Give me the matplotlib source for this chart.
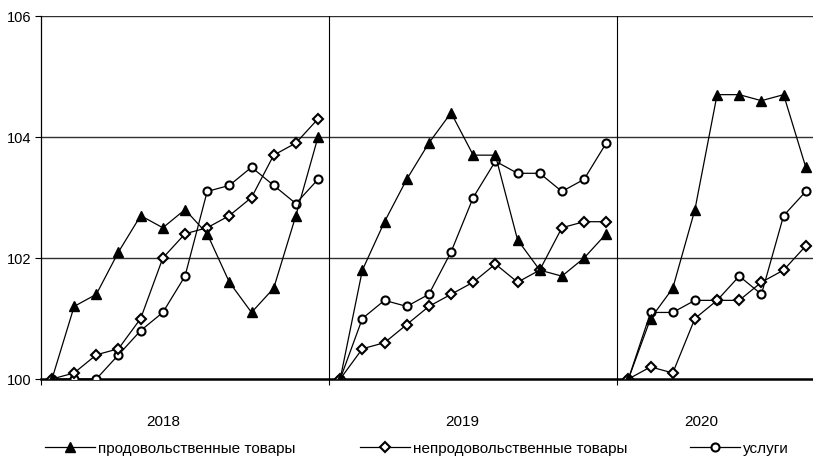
import matplotlib
matplotlib.use("Agg")
import matplotlib.pyplot as plt
from matplotlib.lines import Line2D

plt.rcParams['font.family'] = ['Liberation Sans', 'DejaVu Sans']
plt.rcParams['font.size'] = 11

years = ["2018", "2019", "2020"]
series_names = ["продовольственные товары", "непродовольственные товары", "услуги"]

food_2018 = [100, 101.2, 101.4, 102.1, 102.7, 102.5, 102.8, 102.4, 101.6, 101.1, 101.5, 102.7, 104.0]
food_2019 = [100, 101.8, 102.6, 103.3, 103.9, 104.4, 103.7, 103.7, 102.3, 101.8, 101.7, 102.0, 102.4]
food_2020 = [100, 101.0, 101.5, 102.8, 104.7, 104.7, 104.6, 104.7, 103.5]

nonfood_2018 = [100, 100.1, 100.4, 100.5, 101.0, 102.0, 102.4, 102.5, 102.7, 103.0, 103.7, 103.9, 104.3]
nonfood_2019 = [100, 100.5, 100.6, 100.9, 101.2, 101.4, 101.6, 101.9, 101.6, 101.8, 102.5, 102.6, 102.6]
nonfood_2020 = [100, 100.2, 100.1, 101.0, 101.3, 101.3, 101.6, 101.8, 102.2]

serv_2018 = [100, 100.0, 100.0, 100.4, 100.8, 101.1, 101.7, 103.1, 103.2, 103.5, 103.2, 102.9, 103.3]
serv_2019 = [100, 101.0, 101.3, 101.2, 101.4, 102.1, 103.0, 103.6, 103.4, 103.4, 103.1, 103.3, 103.9]
serv_2020 = [100, 101.1, 101.1, 101.3, 101.3, 101.7, 101.4, 102.7, 103.1]

food = [food_2018, food_2019, food_2020]
nonfood = [nonfood_2018, nonfood_2019, nonfood_2020]
serv = [serv_2018, serv_2019, serv_2020]

fig = plt.figure(figsize=(8.13, 4.6), dpi=100)
W, H = 813, 460
ax = fig.add_axes([40.9 / W, (H - 380) / H, 1 - 40.9 / W, (380 - 17) / H])

styles = [
    dict(marker='^', markersize=7.5, markerfacecolor='black', markeredgecolor='black'),
    dict(marker='D', markersize=5.2, markerfacecolor='white', markeredgecolor='black', markeredgewidth=1.5),
    dict(marker='o', markersize=5.8, markerfacecolor='white', markeredgecolor='black', markeredgewidth=1.5),
]

# horizontal grid
for yv in [102, 104, 106]:
    ax.axhline(yv, color='#303030', lw=1, zorder=1)

start = 0
bounds = []
for i in range(len(years)):
    n = len(food[i])
    xs = list(range(start, start + n))
    ax.plot(xs, serv[i], color='black', lw=0.9, zorder=3, **styles[2])
    ax.plot(xs, nonfood[i], color='black', lw=0.9, zorder=4, **styles[1])
    ax.plot(xs, food[i], color='black', lw=0.9, zorder=5, **styles[0])
    bounds.append(start - 0.5)
    start += n

x_right = (W - 52) / 22.17
ax.set_xlim(-0.5, x_right)
ax.set_ylim(100, 106)

for b in bounds[1:]:
    ax.axvline(b, color='black', lw=0.8, zorder=2)

ax.set_xticks(bounds)
ax.set_xticklabels([])
ax.tick_params(axis='x', direction='out', length=4, width=0.8)
ax.set_yticks([100, 102, 104, 106])
ax.set_yticklabels(['100', '102', '104', '106'])
ax.tick_params(axis='y', direction='out', length=4, width=0.8, pad=3, labelsize=10.5)

for s in ['top', 'right']:
    ax.spines[s].set_visible(False)
ax.spines['left'].set_linewidth(0.9)
ax.spines['bottom'].set_linewidth(1.8)
ax.spines['bottom'].set_zorder(2)

year_pos = [5.0, 18.5, 29.3]
for yr, xp in zip(years, year_pos):
    ax.text(xp, 100 - 42 / 60.5, yr, ha='center', va='center', fontsize=11)

handle_x = [45, 360, 690]
for name, st, hx in zip(series_names, styles, handle_x):
    h = Line2D([], [], color='black', lw=0.9, **st)
    fig.legend([h], [name], loc='center left', bbox_to_anchor=(hx / W, (H - 449) / H),
               frameon=False, handlelength=3.25, handletextpad=0.2, borderpad=0,
               borderaxespad=0, fontsize=11)

fig.savefig('out.png', dpi=100)
